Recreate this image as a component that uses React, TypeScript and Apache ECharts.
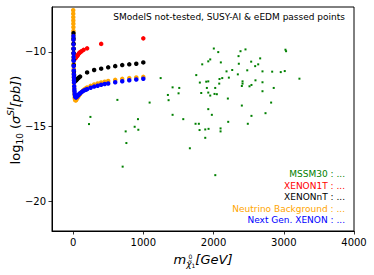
import React, { useEffect, useRef } from 'react';
import * as echarts from 'echarts';

// ---- tick labels ----
const xTicks = [0, 1000, 2000, 3000, 4000];
const yTicks = [-20, -15, -10];

// ---- MSSM30 scan points (mass [GeV], log10 sigma_SI [pb]) ----
const mssmMass = [247, 227, 631, 749, 759, 706, 877, 929, 924, 1090,
  1247, 1360, 1350, 1417, 1512, 1502, 1417, 1569, 1663, 1754,
  1744, 1791, 1801, 1825, 1805, 1839, 1882, 1882, 1896, 1925,
  1905, 1925, 1925, 1953, 1953, 1929, 1925, 1976, 2004, 2067,
  2014, 2047, 2024, 2025, 2081, 2085, 2124, 2104, 2100, 2100,
  2185, 2204, 2209, 2218, 2266, 2346, 2360, 2356, 2384, 2403,
  2413, 2413, 2403, 2455, 2480, 2488, 2512, 2540, 2536, 2540,
  2593, 2597, 2636, 2664, 2697, 2697, 2697, 2740, 2820, 2835,
  2857, 2957, 3014, 3024, 3033, 3223];
const mssmSigma = [-14.36, -14.84, -13.22, -15.33, -16.11, -17.69, -15.02, -15.22, -14.51, -13.40,
  -11.76, -13.24, -12.89, -12.38, -12.42, -12.78, -14.22, -14.51, -16.46, -11.56,
  -14.82, -14.82, -15.24, -12.76, -12.06, -10.84, -15.2, -15.76, -12.0, -11.98,
  -12.42, -12.73, -10.64, -10.51, -12.93, -15.16, -13.84, -14.22, -9.78, -10.02,
  -12.82, -12.84, -12.42, -18.26, -12.13, -11.82, -11.76, -10.71, -15.13, -15.33,
  -11.31, -13.13, -14.69, -11.73, -11.22, -11.51, -10.8, -10.29, -9.96, -12.29,
  -11.98, -12.13, -13.6, -9.84, -11.24, -14.82, -12.31, -12.22, -10.66, -14.29,
  -10.96, -11.91, -10.84, -10.44, -11.31, -12.04, -12.64, -14.11, -13.4, -11.33,
  -12.42, -11.36, -11.29, -9.86, -9.96, -11.8];

// ---- XENON1T ----
const x1tMass = [30, 40, 50, 60, 70, 85, 100, 120, 150, 200, 400, 1000];
const x1tSigma = [-10.45, -10.38, -10.32, -10.26, -10.2, -10.1, -10.03, -9.96, -9.87, -9.77, -9.47, -9.1];

// ---- XENONnT ----
const xntMass = [6, 6.5, 7, 7.5, 8, 9, 10, 12, 14, 17, 20, 25, 30, 40, 50, 60, 80, 100, 200, 300, 400, 500, 600, 700, 800, 900, 1000];
const xntSigma = [-8.75, -9.1, -9.45, -9.8, -10.1, -10.55, -10.9, -11.3, -11.55, -11.75, -11.85, -11.93, -11.95, -11.93, -11.88, -11.82, -11.74, -11.66, -11.38, -11.22, -11.13, -11.04, -10.96, -10.89, -10.84, -10.8, -10.71];

// ---- Neutrino background ----
const nuMass = [2, 2.5, 3, 3.5, 4, 4.5, 5, 5.5, 6, 6.5, 7, 7.5, 8, 9, 10, 11, 12, 13, 14, 16, 18, 20, 23, 26, 30, 35, 40, 50, 60, 70, 80, 90, 100, 120, 140, 160, 180, 200, 250, 300, 350, 400, 450, 500, 600, 700, 800, 900, 1000];
const nuSigma = [-7.22, -7.45, -7.68, -7.9, -8.12, -8.35, -8.6, -8.9, -9.2, -9.5, -9.8, -10.1, -10.4, -10.8, -11.15, -11.45, -11.7, -11.9, -12.1, -12.4, -12.65, -12.85, -13.05, -13.15, -13.22, -13.25, -13.24, -13.18, -13.1, -13.02, -12.95, -12.88, -12.82, -12.7, -12.6, -12.52, -12.45, -12.39, -12.28, -12.19, -12.12, -12.06, -12.01, -11.96, -11.88, -11.81, -11.76, -11.72, -11.68];

// ---- Next Gen. XENON ----
const ngMass = [5, 5.5, 6, 6.5, 7, 7.5, 8, 9, 10, 11, 12, 13, 14, 16, 18, 20, 23, 26, 30, 35, 40, 45, 50, 60, 70, 80, 90, 100, 120, 140, 160, 180, 200, 250, 300, 350, 400, 450, 500, 600, 700, 800, 900, 1000];
const ngSigma = [-8.95, -9.2, -9.5, -9.8, -10.1, -10.35, -10.6, -10.95, -11.25, -11.5, -11.7, -11.9, -12.05, -12.3, -12.5, -12.65, -12.8, -12.9, -12.98, -13.03, -13.05, -13.04, -13.02, -12.97, -12.92, -12.87, -12.82, -12.77, -12.7, -12.63, -12.58, -12.54, -12.5, -12.41, -12.33, -12.27, -12.21, -12.16, -12.12, -12.04, -11.97, -11.91, -11.85, -11.8];

const legendItems = [
  { text: 'MSSM30 : ...', color: '#008000' },
  { text: 'XENON1T : ...', color: '#ff0000' },
  { text: 'XENONnT : ...', color: '#000000' },
  { text: 'Neutrino Background : ...', color: '#ffa500' },
  { text: 'Next Gen. XENON : ...', color: '#0000ff' },
];

const FONT = 'DejaVu Sans';
const zip = (a: number[], b: number[]) => a.map((v, i) => [v, b[i]]);
const fmt = (v: number) => (v < 0 ? '\u2212' + Math.abs(v) : String(v));

export default function App() {
  const ref = useRef<HTMLDivElement>(null);
  useEffect(() => {
    const chart = echarts.init(ref.current!, null, { renderer: 'svg' });
    const dot = (name: string, mass: number[], sig: number[], color: string, size: number, symbol = 'circle') => ({
      name,
      type: 'scatter',
      data: zip(mass, sig),
      symbol,
      symbolSize: size,
      itemStyle: { color, opacity: 1 },
      emphasis: { disabled: true },
      silent: true,
    });
    chart.setOption({
      animation: false,
      backgroundColor: '#fff',
      grid: { left: 52, top: 7, width: 302, height: 224, show: true, borderColor: '#000', borderWidth: 1, backgroundColor: 'transparent' },
      xAxis: {
        type: 'value', min: -300, max: 4000,
        axisLine: { show: true, onZero: false, lineStyle: { color: '#000', width: 1 } },
        axisTick: { show: true, length: 3.5, lineStyle: { color: '#000', width: 0.8 }, customValues: xTicks },
        axisLabel: { customValues: xTicks, color: '#000', fontSize: 10, fontFamily: FONT, margin: 6, formatter: fmt },
        splitLine: { show: false },
      },
      yAxis: {
        type: 'value', min: -22, max: -7,
        axisLine: { show: true, onZero: false, lineStyle: { color: '#000', width: 1 } },
        axisTick: { show: true, length: 3.5, lineStyle: { color: '#000', width: 0.8 }, customValues: yTicks },
        axisLabel: { customValues: yTicks, color: '#000', fontSize: 10, fontFamily: FONT, margin: 6, formatter: fmt },
        splitLine: { show: false },
      },
      series: [
        dot('MSSM30', mssmMass, mssmSigma, '#008000', 2, 'rect'),
        dot('XENON1T', x1tMass, x1tSigma, '#ff0000', 4.5),
        dot('Neutrino Background', nuMass, nuSigma, '#ffa500', 4.5),
        dot('XENONnT', xntMass, xntSigma, '#000000', 4.5),
        dot('Next Gen. XENON', ngMass, ngSigma, '#0000ff', 4.5),
      ],
      graphic: [
        {
          type: 'text', x: 345, y: 17,
          style: { text: 'SModelS not-tested, SUSY-AI & eEDM passed points', fill: '#000', font: `9px "${FONT}"`, textAlign: 'right', textVerticalAlign: 'middle' },
        },
        ...legendItems.map((it, i) => ({
          type: 'text', x: 345, y: 174 + i * 11.6,
          style: { text: it.text, fill: it.color, font: `9px "${FONT}"`, textAlign: 'right', textVerticalAlign: 'middle' },
        })),
        {
          type: 'text', x: 15, y: 120, rotation: Math.PI / 2,
          style: {
            text: '{n|log}{sub|10}{n| (}{i|σ}{sup|SI}{i|[pb]}{n|)}',
            fill: '#000', textAlign: 'center', textVerticalAlign: 'middle',
            rich: {
              n: { fontSize: 13, fontFamily: FONT, lineHeight: 18, verticalAlign: 'middle' },
              i: { fontSize: 13, fontFamily: FONT, fontStyle: 'italic', lineHeight: 18, verticalAlign: 'middle' },
              sub: { fontSize: 9, fontFamily: FONT, lineHeight: 9, verticalAlign: 'bottom' },
              sup: { fontSize: 9, fontFamily: FONT, fontStyle: 'italic', lineHeight: 9, verticalAlign: 'top' },
            },
          },
        },
        {
          type: 'text', x: 203, y: 259,
          style: {
            text: '{i|m}{chi|χ̃}{lo|1}{i|[GeV]}',
            fill: '#000', textAlign: 'center', textVerticalAlign: 'middle',
            rich: {
              i: { fontSize: 13, fontFamily: FONT, fontStyle: 'italic', lineHeight: 18, verticalAlign: 'middle' },
              chi: { fontSize: 9, fontFamily: FONT, fontStyle: 'italic', lineHeight: 11, verticalAlign: 'bottom' },
              lo: { fontSize: 6, fontFamily: FONT, lineHeight: 6, verticalAlign: 'bottom' },
            },
          },
        },
        {
          type: 'text', x: 190.5, y: 256,
          style: { text: '0', fill: '#000', font: `6px "${FONT}"`, textAlign: 'center', textVerticalAlign: 'middle' },
        },
      ],
    });
    return () => chart.dispose();
  }, []);
  return <div ref={ref} style={{ position: 'fixed', left: 0, top: 0, width: 374, height: 275 }} />;
}
